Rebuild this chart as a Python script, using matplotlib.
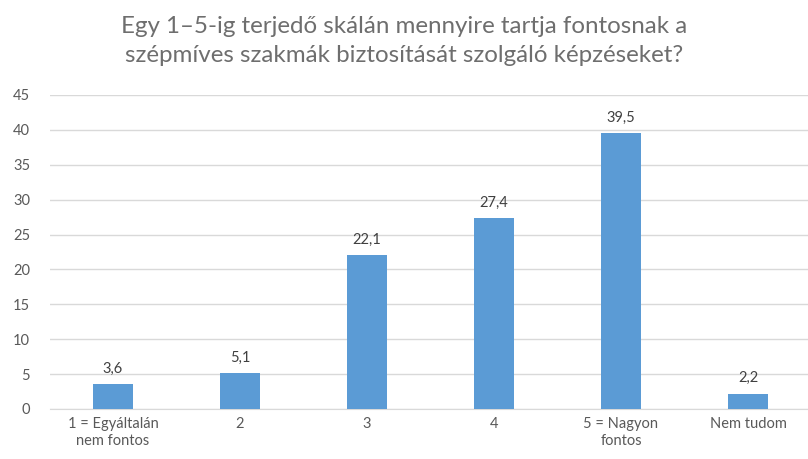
import matplotlib.pyplot as plt
import numpy as np

categories = ['1 = Egyáltalán\nnem fontos', '2', '3', '4', '5 = Nagyon\nfontos', 'Nem tudom']
values = [3.6, 5.1, 22.1, 27.4, 39.5, 2.2]
yticks = [0, 5, 10, 15, 20, 25, 30, 35, 40, 45]
title = 'Egy 1–5-ig terjedő skálán mennyire tartja fontosnak a\nszépmíves szakmák biztosítását szolgáló képzéseket?'

plt.rcParams['font.family'] = ['Lato', 'DejaVu Sans']

fig = plt.figure(figsize=(8.08, 4.59), dpi=100)
ax = fig.add_axes([49.5 / 808, 50 / 459, 762 / 808, 314 / 459])

x = np.arange(len(categories))
ax.bar(x, values, width=0.315, color='#5B9BD5', zorder=3)

for xi, v in zip(x, values):
    ax.annotate(f'{v:.1f}'.replace('.', ','), (xi, v), xytext=(0, 6),
                textcoords='offset points', ha='center', va='bottom',
                fontsize=10.5, color='#404040')

ax.set_xlim(-0.5, len(categories) - 0.5)
ax.set_ylim(0, 45)
ax.set_yticks(yticks)
ax.set_xticks(x)
ax.set_xticklabels(categories)
ax.yaxis.grid(True, color='#D9D9D9', linewidth=1, zorder=0)
for s in ['top', 'right', 'left']:
    ax.spines[s].set_visible(False)
ax.spines['bottom'].set_color('#D9D9D9')
ax.tick_params(axis='both', length=0, labelsize=10.5, labelcolor='#595959')
ax.tick_params(axis='y', pad=14)
ax.tick_params(axis='x', pad=6)

fig.text(0.5, 1 - 41 / 459, title, ha='center', va='center', fontsize=17.4,
         color='#6E6E6E', linespacing=1.42)

fig.savefig('out.png', dpi=100)
